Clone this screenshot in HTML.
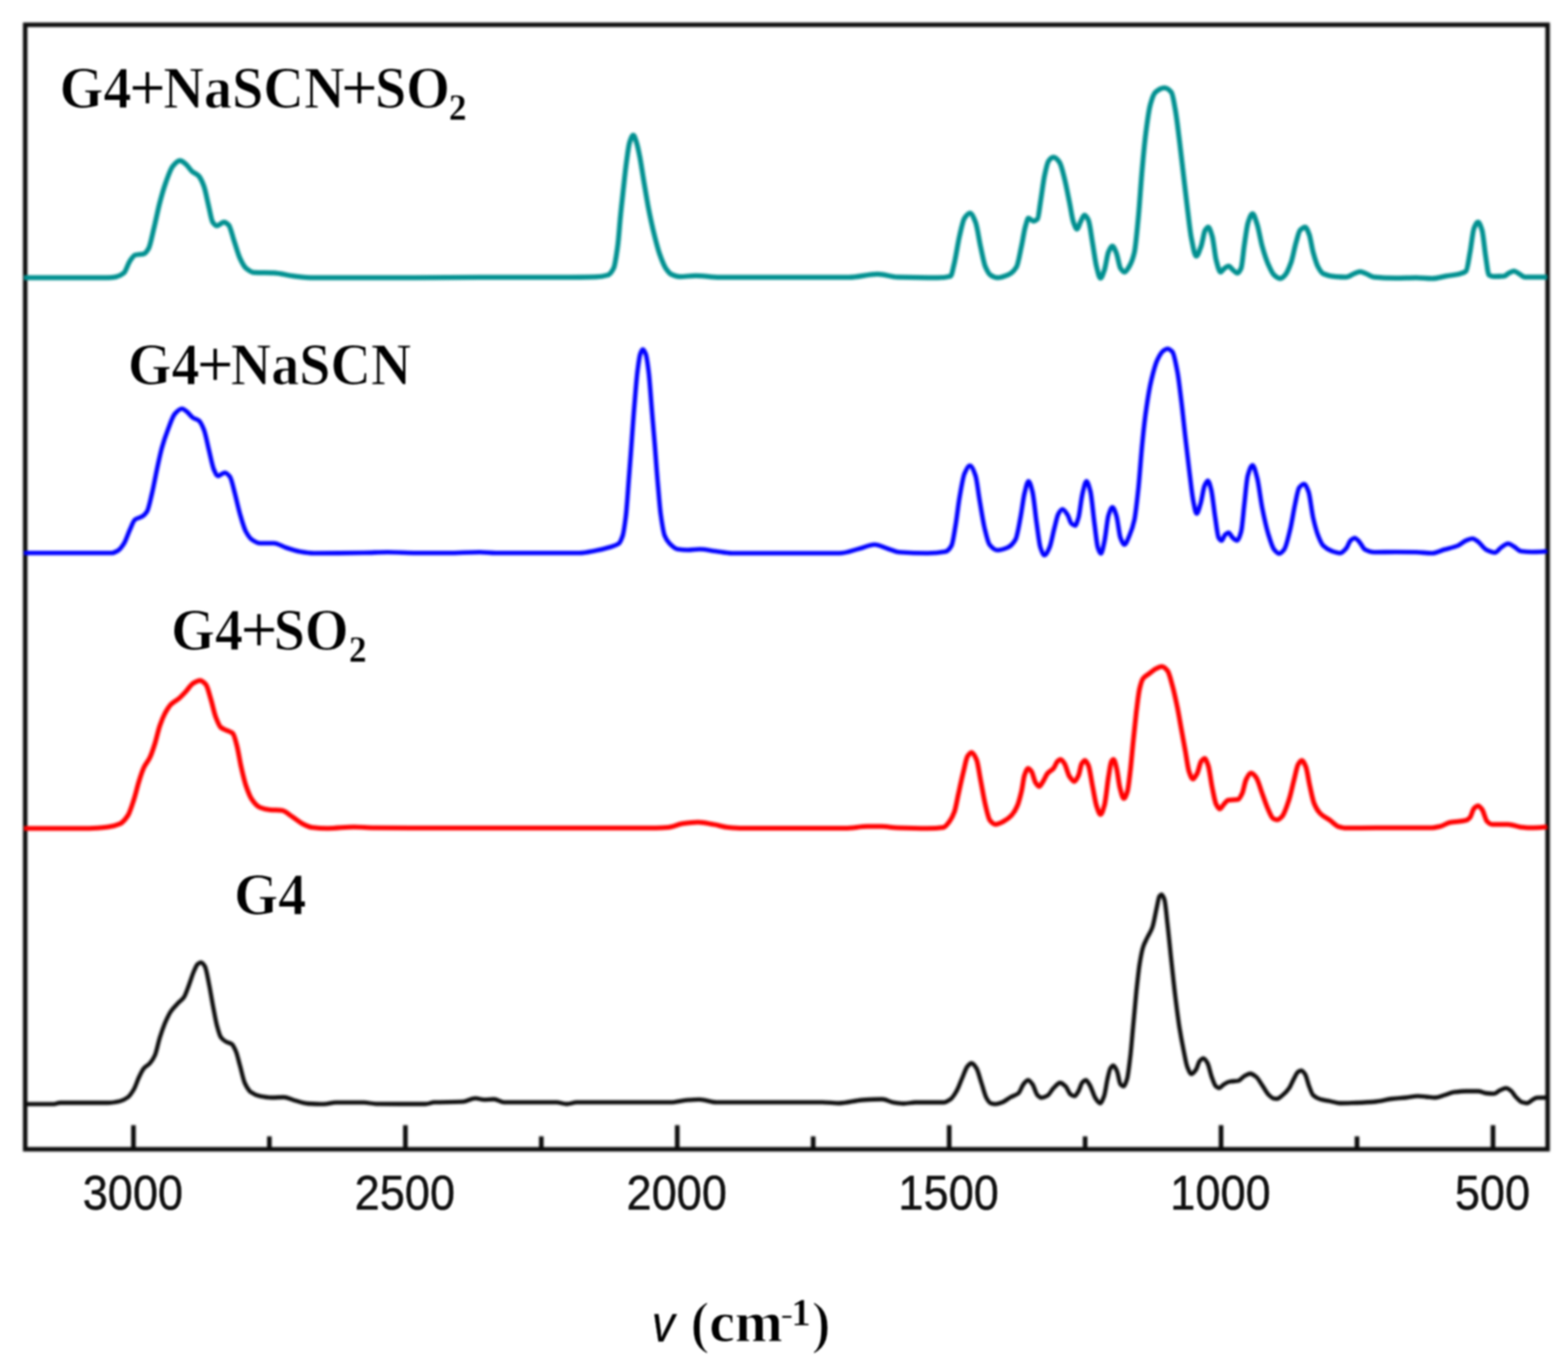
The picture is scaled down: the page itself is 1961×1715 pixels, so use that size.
<!DOCTYPE html>
<html lang="en">
<head>
<meta charset="utf-8">
<title>Spectra: G4, G4+SO2, G4+NaSCN, G4+NaSCN+SO2</title>
<style>
html,body{margin:0;padding:0;background:#fff;}
body{width:1961px;height:1715px;overflow:hidden;}
svg{display:block;}
text{white-space:pre;}
.lab{font-family:"Liberation Serif",serif;font-weight:bold;fill:#000;stroke:#fff;stroke-width:1.1;}
.lab .r{font-weight:normal;}
.lab .p{stroke:#000;stroke-width:0.5;}
.lab .par{stroke-width:2.4;}
.lab .s{stroke-width:0.3;}
.tick{font-family:"Liberation Sans",sans-serif;fill:#101010;stroke:#101010;stroke-width:0.5;}
.nu{font-family:"Liberation Sans",sans-serif;font-style:italic;font-weight:normal;fill:#000;stroke:#000;stroke-width:0.3;}
.curve{fill:none;stroke-linejoin:round;stroke-linecap:butt;}
</style>
</head>
<body>
<svg width="1961" height="1715" viewBox="0 0 1961 1715" role="img" aria-label="Spectra of G4, G4+SO2, G4+NaSCN and G4+NaSCN+SO2 versus wavenumber">
<defs>
<clipPath id="plot"><rect x="29.9" y="31.0" width="1907.2" height="1406.6"/></clipPath>
<filter id="soft" filterUnits="userSpaceOnUse" x="0" y="0" width="1961" height="1715" color-interpolation-filters="sRGB"><feGaussianBlur stdDeviation="1.3"/></filter>
<filter id="soft2" filterUnits="userSpaceOnUse" x="0" y="0" width="1961" height="1715" color-interpolation-filters="sRGB"><feGaussianBlur stdDeviation="1.5"/></filter>
</defs>
<rect x="0" y="0" width="1961" height="1715" fill="#ffffff"/>
<g filter="url(#soft2)">
<g fill="none" stroke="#0c0c0c"><path stroke-width="5.8" d="M166.9,1437.6V1407.6M507.0,1437.6V1407.6M847.0,1437.6V1407.6M1187.1,1437.6V1407.6M1527.1,1437.6V1407.6M1867.2,1437.6V1407.6M336.9,1437.6V1421.6M677.0,1437.6V1421.6M1017.0,1437.6V1421.6M1357.1,1437.6V1421.6M1697.1,1437.6V1421.6"/><rect x="31.5" y="31.0" width="1904.0" height="1406.6" stroke-width="5.6"/></g>
<g clip-path="url(#plot)">
<path class="curve" stroke="#0c0c0c" stroke-width="5.3" d="M30.0,1381.2C42.5,1381.2 55.0,1381.2 67.5,1381.2C70.0,1381.2 72.5,1379.5 75.0,1379.5C95.0,1379.5 115.0,1379.5 135.0,1379.5C140.0,1379.5 145.0,1378.6 150.0,1377.5C153.3,1376.8 156.7,1375.0 160.0,1372.5C162.5,1370.6 165.0,1366.8 167.5,1362.5C169.6,1358.9 171.7,1351.8 173.8,1347.5C175.8,1343.2 177.9,1338.7 180.0,1336.2C182.5,1333.4 185.0,1332.8 187.5,1330.0C189.6,1327.7 191.7,1324.6 193.8,1320.0C195.8,1315.4 197.9,1304.1 200.0,1297.5C202.1,1290.9 204.2,1284.9 206.2,1280.0C208.8,1274.1 211.2,1268.7 213.8,1265.0C216.7,1260.7 219.6,1258.1 222.5,1255.0C225.0,1252.3 227.5,1251.1 230.0,1247.5C232.1,1244.5 234.2,1237.9 236.2,1232.5C238.3,1227.1 240.4,1219.7 242.5,1215.0C244.0,1211.6 245.5,1207.6 247.0,1206.2C248.4,1205.0 249.8,1203.8 251.2,1203.8C252.9,1203.8 254.6,1206.1 256.2,1208.8C257.9,1211.4 259.6,1222.0 261.2,1230.0C262.9,1238.0 264.6,1248.8 266.2,1257.5C267.9,1266.2 269.6,1276.2 271.2,1282.5C272.9,1288.8 274.6,1295.2 276.2,1297.5C278.3,1300.4 280.4,1301.8 282.5,1303.0C285.0,1304.5 287.5,1304.4 290.0,1306.2C291.7,1307.5 293.3,1311.1 295.0,1315.0C296.7,1318.9 298.3,1326.6 300.0,1332.5C302.1,1339.9 304.2,1350.5 306.2,1355.0C308.8,1360.4 311.2,1364.5 313.8,1366.2C317.5,1368.9 321.2,1370.5 325.0,1371.2C330.0,1372.2 335.0,1373.0 340.0,1373.0C345.0,1373.0 350.0,1372.5 355.0,1372.5C359.2,1372.5 363.3,1375.1 367.5,1376.2C373.3,1377.8 379.2,1380.1 385.0,1380.5C391.7,1380.9 398.3,1381.2 405.0,1381.2C410.0,1381.2 415.0,1379.2 420.0,1379.2C431.7,1379.2 443.3,1379.2 455.0,1379.2C460.0,1379.2 465.0,1380.7 470.0,1380.8C480.0,1380.9 490.0,1381.0 500.0,1381.0C510.7,1381.0 521.3,1381.0 532.0,1381.0C535.7,1381.0 539.3,1379.1 543.0,1378.9C554.8,1378.4 566.7,1378.7 578.5,1378.2C583.9,1378.0 589.2,1373.9 594.6,1373.9C598.2,1373.9 601.7,1375.7 605.3,1375.7C609.5,1375.7 613.6,1375.0 617.8,1375.0C622.0,1375.0 626.1,1378.9 630.3,1378.9C652.2,1378.9 674.1,1378.9 696.0,1378.9C700.3,1378.9 704.5,1381.0 708.8,1381.0C713.0,1381.0 717.1,1378.9 721.3,1378.9C760.5,1378.9 799.8,1378.9 839.0,1378.9C845.0,1378.9 851.0,1376.9 857.0,1376.4C862.9,1375.9 868.9,1375.3 874.8,1375.3C881.9,1375.3 888.9,1378.9 896.0,1378.9C940.1,1378.9 984.2,1378.9 1028.3,1378.9C1035.4,1378.9 1042.6,1380.0 1049.7,1380.0C1059.2,1380.0 1068.8,1376.6 1078.3,1376.0C1086.6,1375.5 1095.0,1375.0 1103.3,1375.0C1108.0,1375.0 1112.8,1378.5 1117.5,1379.2C1121.7,1379.8 1125.8,1380.5 1130.0,1380.5C1135.0,1380.5 1140.0,1379.0 1145.0,1379.0C1156.7,1379.0 1168.3,1379.0 1180.0,1379.0C1182.9,1379.0 1185.8,1377.0 1188.8,1375.0C1191.2,1373.3 1193.8,1369.2 1196.2,1365.0C1198.8,1360.8 1201.2,1353.2 1203.8,1347.5C1205.8,1342.8 1207.9,1336.0 1210.0,1333.8C1211.7,1331.9 1213.3,1330.0 1215.0,1330.0C1217.1,1330.0 1219.2,1333.1 1221.2,1336.2C1223.3,1339.4 1225.4,1348.8 1227.5,1355.0C1229.6,1361.2 1231.7,1370.1 1233.8,1373.8C1235.4,1376.6 1237.1,1379.4 1238.8,1380.0C1240.8,1380.7 1242.9,1381.2 1245.0,1381.2C1247.9,1381.2 1250.8,1379.9 1253.8,1378.8C1257.1,1377.5 1260.4,1374.4 1263.8,1372.5C1267.1,1370.6 1270.4,1370.2 1273.8,1367.5C1275.8,1365.8 1277.9,1358.7 1280.0,1356.2C1281.9,1354.0 1283.8,1351.2 1285.8,1351.2C1287.6,1351.2 1289.4,1353.9 1291.2,1356.2C1293.3,1358.9 1295.4,1368.0 1297.5,1370.0C1299.2,1371.6 1300.8,1373.2 1302.5,1373.2C1305.0,1373.2 1307.5,1371.9 1310.0,1370.5C1312.5,1369.1 1315.0,1363.7 1317.5,1361.2C1320.2,1358.5 1323.0,1354.5 1325.8,1354.5C1328.0,1354.5 1330.2,1356.7 1332.5,1358.8C1334.6,1360.6 1336.7,1367.2 1338.8,1368.8C1340.4,1370.0 1342.1,1371.2 1343.8,1371.2C1345.4,1371.2 1347.1,1367.7 1348.8,1365.0C1350.4,1362.3 1352.1,1355.3 1353.8,1353.8C1355.2,1352.4 1356.6,1351.2 1358.0,1351.2C1359.7,1351.2 1361.3,1354.8 1363.0,1357.5C1365.3,1361.2 1367.7,1370.3 1370.0,1373.8C1371.9,1376.6 1373.8,1380.0 1375.8,1380.0C1377.4,1380.0 1379.1,1375.6 1380.8,1371.2C1382.2,1367.5 1383.6,1356.0 1385.0,1350.0C1386.2,1344.7 1387.5,1338.0 1388.8,1336.2C1390.0,1334.5 1391.2,1333.0 1392.5,1333.0C1394.0,1333.0 1395.5,1336.7 1397.0,1340.0C1398.4,1343.1 1399.8,1354.7 1401.2,1356.2C1402.5,1357.6 1403.8,1358.8 1405.0,1358.8C1406.5,1358.8 1408.0,1354.6 1409.5,1350.0C1410.9,1345.7 1412.3,1332.1 1413.8,1320.0C1415.0,1309.3 1416.2,1293.3 1417.5,1280.0C1418.8,1266.7 1420.0,1252.0 1421.2,1240.0C1422.5,1228.0 1423.8,1215.5 1425.0,1207.5C1426.5,1197.9 1428.0,1189.7 1429.5,1185.0C1431.3,1179.2 1433.2,1176.4 1435.0,1172.5C1437.1,1168.1 1439.2,1165.9 1441.2,1160.0C1442.9,1155.3 1444.6,1144.9 1446.2,1137.5C1447.5,1132.0 1448.8,1123.2 1450.0,1121.2C1450.8,1120.0 1451.7,1118.8 1452.5,1118.8C1453.8,1118.8 1455.0,1121.6 1456.2,1125.0C1457.5,1128.4 1458.8,1144.2 1460.0,1155.0C1461.7,1169.4 1463.3,1187.1 1465.0,1202.5C1466.7,1217.9 1468.3,1233.9 1470.0,1247.5C1471.7,1261.1 1473.3,1274.4 1475.0,1285.0C1476.7,1295.6 1478.3,1304.2 1480.0,1312.5C1481.7,1320.8 1483.3,1330.9 1485.0,1335.0C1486.7,1339.1 1488.3,1343.5 1490.0,1343.5C1491.8,1343.5 1493.7,1340.9 1495.5,1338.5C1497.2,1336.3 1498.8,1328.8 1500.5,1327.0C1502.0,1325.4 1503.5,1323.8 1505.0,1323.8C1506.7,1323.8 1508.3,1326.7 1510.0,1329.5C1511.8,1332.6 1513.7,1342.6 1515.5,1347.5C1517.2,1351.9 1518.8,1357.3 1520.5,1358.8C1521.8,1359.9 1523.2,1361.0 1524.5,1361.0C1526.5,1361.0 1528.5,1357.7 1530.5,1356.5C1533.0,1355.0 1535.5,1353.4 1538.0,1353.0C1541.5,1352.4 1545.0,1352.6 1548.5,1352.0C1551.0,1351.6 1553.5,1347.6 1556.0,1346.2C1558.5,1344.9 1561.0,1343.0 1563.5,1343.0C1566.0,1343.0 1568.5,1345.1 1571.0,1347.0C1573.5,1348.9 1576.0,1353.9 1578.5,1357.5C1581.0,1361.1 1583.5,1366.2 1586.0,1368.8C1588.1,1370.9 1590.2,1373.2 1592.2,1373.8C1593.9,1374.2 1595.6,1374.5 1597.2,1374.5C1599.3,1374.5 1601.4,1372.1 1603.5,1370.5C1606.4,1368.2 1609.3,1365.4 1612.2,1361.2C1614.3,1358.3 1616.4,1352.4 1618.5,1348.8C1620.2,1345.8 1621.8,1341.8 1623.5,1340.8C1624.8,1340.0 1626.0,1339.2 1627.2,1339.2C1628.9,1339.2 1630.6,1341.4 1632.2,1343.8C1633.9,1346.1 1635.6,1354.5 1637.2,1358.8C1638.9,1363.0 1640.6,1368.4 1642.2,1370.0C1645.2,1372.8 1648.1,1374.1 1651.0,1375.0C1655.2,1376.3 1659.3,1376.7 1663.5,1377.5C1667.7,1378.3 1671.8,1380.0 1676.0,1380.0C1682.7,1380.0 1689.3,1379.7 1696.0,1379.5C1704.3,1379.2 1712.7,1378.8 1721.0,1378.0C1727.7,1377.4 1734.3,1375.3 1741.0,1374.5C1746.8,1373.8 1752.7,1373.6 1758.5,1373.0C1763.5,1372.5 1768.5,1371.2 1773.5,1371.2C1776.8,1371.2 1780.2,1371.7 1783.5,1372.0C1787.2,1372.3 1791.0,1373.0 1794.8,1373.0C1798.5,1373.0 1802.2,1371.1 1806.0,1370.0C1810.2,1368.8 1814.3,1366.8 1818.5,1366.2C1823.5,1365.6 1828.5,1365.0 1833.5,1365.0C1838.5,1365.0 1843.5,1365.0 1848.5,1365.0C1851.8,1365.0 1855.2,1367.1 1858.5,1367.5C1861.8,1367.9 1865.2,1368.2 1868.5,1368.2C1871.0,1368.2 1873.5,1364.8 1876.0,1363.8C1878.5,1362.7 1881.0,1361.2 1883.5,1361.2C1885.6,1361.2 1887.7,1363.0 1889.8,1364.5C1891.8,1366.0 1893.9,1370.4 1896.0,1372.5C1898.5,1375.0 1901.0,1378.0 1903.5,1378.8C1905.6,1379.4 1907.7,1380.0 1909.8,1380.0C1911.8,1380.0 1913.9,1377.4 1916.0,1376.2C1918.1,1375.1 1920.2,1373.3 1922.2,1373.2C1926.5,1373.1 1930.8,1373.0 1935.0,1373.0"/>
<path class="curve" stroke="#ff0000" stroke-width="6.0" d="M30.0,1036.2C46.7,1036.2 63.3,1036.2 80.0,1036.2C90.7,1036.2 101.3,1036.2 112.0,1036.2C119.7,1036.2 127.3,1035.4 135.0,1034.5C140.0,1033.9 145.0,1032.7 150.0,1030.5C153.3,1029.0 156.7,1025.1 160.0,1020.0C162.5,1016.2 165.0,1007.7 167.5,1000.0C169.6,993.6 171.7,984.1 173.8,977.5C175.8,970.9 177.9,964.4 180.0,960.0C182.5,954.7 185.0,952.8 187.5,947.5C189.6,943.1 191.7,936.6 193.8,930.0C195.8,923.4 197.9,913.5 200.0,907.5C202.1,901.5 204.2,896.4 206.2,892.5C208.8,887.9 211.2,883.8 213.8,881.2C217.1,877.9 220.4,876.6 223.8,873.8C226.7,871.2 229.6,868.1 232.5,865.0C235.4,861.9 238.3,856.8 241.2,855.0C244.2,853.2 247.1,851.2 250.0,851.2C252.5,851.2 255.0,853.5 257.5,856.2C259.6,858.6 261.7,868.2 263.8,875.0C265.8,881.8 267.9,892.1 270.0,897.5C272.1,902.9 274.2,908.3 276.2,910.0C278.8,912.0 281.2,912.5 283.8,913.8C286.2,915.0 288.8,915.2 291.2,917.5C292.9,919.0 294.6,926.2 296.2,932.5C297.9,938.8 299.6,950.1 301.2,957.5C303.3,966.8 305.4,976.3 307.5,982.5C310.0,989.9 312.5,996.4 315.0,1000.0C318.3,1004.8 321.7,1008.7 325.0,1010.0C329.2,1011.7 333.3,1012.6 337.5,1013.0C342.5,1013.4 347.5,1013.3 352.5,1013.8C356.7,1014.1 360.8,1018.6 365.0,1021.2C369.2,1023.9 373.3,1027.9 377.5,1030.0C381.7,1032.1 385.8,1034.5 390.0,1035.0C396.7,1035.8 403.3,1036.2 410.0,1036.2C420.8,1036.2 431.7,1034.5 442.5,1034.5C450.8,1034.5 459.2,1035.4 467.5,1035.5C485.0,1035.6 502.5,1035.7 520.0,1035.7C546.7,1035.7 573.3,1035.7 600.0,1035.7C633.3,1035.7 666.7,1035.7 700.0,1035.7C740.0,1035.7 780.0,1035.7 820.0,1035.7C825.2,1035.7 830.5,1035.4 835.7,1035.0C841.6,1034.6 847.6,1031.1 853.5,1030.3C860.0,1029.4 866.5,1028.5 873.0,1028.5C879.7,1028.5 886.3,1030.3 893.0,1031.4C898.9,1032.4 904.8,1034.5 910.7,1035.0C916.6,1035.5 922.6,1036.0 928.5,1036.0C952.3,1036.0 976.2,1036.0 1000.0,1036.0C1019.0,1036.0 1038.0,1036.0 1057.0,1036.0C1066.3,1036.0 1075.7,1033.8 1085.0,1033.8C1090.8,1033.8 1096.7,1033.8 1102.5,1033.8C1109.2,1033.8 1115.8,1035.3 1122.5,1035.5C1135.0,1035.9 1147.5,1036.2 1160.0,1036.2C1166.7,1036.2 1173.3,1035.9 1180.0,1035.0C1182.5,1034.7 1185.0,1030.9 1187.5,1027.5C1189.6,1024.7 1191.7,1020.9 1193.8,1015.0C1195.4,1010.3 1197.1,999.9 1198.8,992.5C1200.8,983.2 1202.9,973.4 1205.0,965.0C1206.7,958.3 1208.3,948.9 1210.0,946.2C1211.7,943.6 1213.3,941.2 1215.0,941.2C1217.1,941.2 1219.2,945.3 1221.2,950.0C1222.9,953.7 1224.6,966.5 1226.2,975.0C1228.3,985.6 1230.4,999.0 1232.5,1007.5C1234.3,1015.0 1236.2,1024.0 1238.0,1026.2C1240.3,1029.1 1242.7,1031.2 1245.0,1031.2C1248.3,1031.2 1251.7,1029.2 1255.0,1027.5C1258.3,1025.8 1261.7,1023.5 1265.0,1020.0C1267.5,1017.4 1270.0,1013.3 1272.5,1007.5C1274.2,1003.6 1275.8,997.1 1277.5,990.0C1278.8,984.7 1280.0,973.6 1281.2,970.0C1282.8,965.7 1284.2,961.2 1285.8,961.2C1287.2,961.2 1288.6,963.1 1290.0,965.0C1291.7,967.2 1293.3,976.1 1295.0,978.8C1296.5,981.1 1298.0,983.8 1299.5,983.8C1301.2,983.8 1302.8,980.0 1304.5,977.5C1306.3,974.8 1308.2,969.6 1310.0,967.5C1312.5,964.6 1315.0,964.1 1317.5,961.2C1319.2,959.3 1320.8,954.1 1322.5,952.5C1323.8,951.3 1325.0,950.0 1326.2,950.0C1327.9,950.0 1329.6,952.6 1331.2,955.0C1333.3,958.0 1335.4,968.2 1337.5,971.2C1339.6,974.3 1341.7,977.5 1343.8,977.5C1345.4,977.5 1347.1,973.5 1348.8,970.0C1350.2,967.0 1351.6,957.1 1353.0,955.0C1354.3,953.0 1355.7,951.2 1357.0,951.2C1358.4,951.2 1359.8,954.3 1361.2,957.5C1362.9,961.2 1364.6,974.2 1366.2,982.5C1367.9,990.8 1369.6,1002.3 1371.2,1007.5C1372.9,1012.7 1374.6,1018.8 1376.2,1018.8C1377.9,1018.8 1379.6,1013.2 1381.2,1007.5C1382.9,1001.8 1384.6,982.5 1386.2,972.5C1387.5,965.0 1388.8,954.5 1390.0,952.5C1390.8,951.2 1391.7,950.0 1392.5,950.0C1393.8,950.0 1395.0,955.4 1396.2,960.0C1397.7,965.2 1399.1,979.6 1400.5,985.0C1402.2,991.3 1403.8,998.8 1405.5,998.8C1407.0,998.8 1408.5,994.7 1410.0,990.0C1411.2,986.1 1412.5,973.1 1413.8,962.5C1415.0,951.9 1416.2,937.1 1417.5,925.0C1418.8,912.9 1420.0,900.3 1421.2,890.0C1422.5,879.7 1423.8,868.0 1425.0,862.5C1426.5,855.9 1428.0,850.7 1429.5,848.8C1432.2,845.2 1434.8,844.5 1437.5,842.5C1440.4,840.3 1443.3,837.7 1446.2,836.2C1448.5,835.2 1450.8,833.8 1453.0,833.8C1455.3,833.8 1457.7,836.0 1460.0,838.8C1462.1,841.2 1464.2,850.1 1466.2,857.5C1468.3,864.9 1470.4,874.8 1472.5,885.0C1474.2,893.2 1475.8,903.3 1477.5,912.5C1479.2,921.7 1480.8,930.8 1482.5,940.0C1484.0,948.3 1485.5,960.6 1487.0,965.0C1488.6,969.7 1490.2,974.5 1491.8,974.5C1493.6,974.5 1495.4,970.8 1497.2,967.5C1498.9,964.5 1500.6,954.7 1502.2,952.5C1503.7,950.6 1505.1,948.8 1506.5,948.8C1508.0,948.8 1509.5,953.2 1511.0,957.5C1512.7,962.2 1514.3,977.0 1516.0,985.0C1517.7,993.0 1519.3,1003.0 1521.0,1006.2C1522.5,1009.2 1524.0,1012.0 1525.5,1012.0C1527.2,1012.0 1528.8,1008.0 1530.5,1006.2C1532.3,1004.3 1534.2,1001.3 1536.0,1001.0C1540.2,1000.3 1544.3,1000.7 1548.5,1000.0C1550.2,999.7 1551.8,996.0 1553.5,992.5C1555.2,989.0 1556.8,978.2 1558.5,975.0C1560.6,971.0 1562.7,967.0 1564.8,967.0C1566.8,967.0 1568.9,969.8 1571.0,972.5C1573.5,975.8 1576.0,985.8 1578.5,992.5C1581.0,999.2 1583.5,1007.2 1586.0,1012.5C1588.1,1017.0 1590.2,1022.6 1592.2,1023.8C1593.9,1024.7 1595.6,1025.5 1597.2,1025.5C1599.3,1025.5 1601.4,1023.4 1603.5,1021.2C1606.4,1018.2 1609.3,1008.9 1612.2,1000.0C1614.3,993.6 1616.4,983.1 1618.5,975.0C1620.2,968.6 1621.8,959.1 1623.5,956.2C1625.0,953.7 1626.5,951.2 1628.0,951.2C1629.7,951.2 1631.3,955.0 1633.0,958.8C1634.7,962.5 1636.3,975.2 1638.0,982.5C1639.8,990.6 1641.7,1000.6 1643.5,1005.0C1646.0,1011.1 1648.5,1014.9 1651.0,1017.5C1655.2,1021.8 1659.3,1023.2 1663.5,1026.2C1666.8,1028.7 1670.2,1032.7 1673.5,1033.8C1676.8,1034.8 1680.2,1035.8 1683.5,1035.8C1696.0,1035.8 1708.5,1035.5 1721.0,1035.5C1744.3,1035.5 1767.7,1035.5 1791.0,1035.5C1794.3,1035.5 1797.7,1034.5 1801.0,1033.8C1805.2,1032.8 1809.3,1029.6 1813.5,1028.8C1820.2,1027.4 1826.8,1027.9 1833.5,1026.2C1835.2,1025.8 1836.8,1024.4 1838.5,1022.5C1840.2,1020.6 1841.8,1012.9 1843.5,1011.2C1845.2,1009.6 1846.8,1008.0 1848.5,1008.0C1850.2,1008.0 1851.8,1010.4 1853.5,1012.5C1855.6,1015.2 1857.7,1025.5 1859.8,1027.5C1861.8,1029.5 1863.9,1031.2 1866.0,1031.2C1872.7,1031.2 1879.3,1031.2 1886.0,1031.2C1891.0,1031.2 1896.0,1033.8 1901.0,1034.5C1904.3,1034.9 1907.7,1035.5 1911.0,1035.5C1919.0,1035.5 1927.0,1035.5 1935.0,1034.2"/>
<path class="curve" stroke="#0000ff" stroke-width="5.6" d="M30.0,691.8C46.7,691.8 63.3,691.8 80.0,691.8C100.0,691.8 120.0,691.8 140.0,691.8C142.5,691.8 145.0,690.2 147.5,688.8C150.0,687.3 152.5,683.9 155.0,680.0C157.5,676.1 160.0,667.9 162.5,662.5C164.6,658.0 166.7,651.5 168.8,650.0C171.7,647.9 174.6,648.0 177.5,646.2C179.6,645.0 181.7,643.3 183.8,640.0C185.8,636.7 187.9,626.1 190.0,617.5C192.1,608.9 194.2,597.1 196.2,587.5C198.3,577.9 200.4,567.5 202.5,560.0C205.0,551.0 207.5,544.0 210.0,537.5C212.9,529.9 215.8,520.7 218.8,517.5C221.7,514.3 224.6,511.2 227.5,511.2C229.6,511.2 231.7,513.4 233.8,515.0C236.2,516.9 238.8,520.8 241.2,522.5C243.8,524.2 246.2,524.3 248.8,526.2C250.8,527.9 252.9,532.3 255.0,537.5C257.1,542.7 259.2,554.2 261.2,562.5C263.3,570.8 265.4,582.8 267.5,587.5C269.2,591.2 270.8,595.5 272.5,595.5C275.4,595.5 278.3,591.2 281.2,591.2C283.3,591.2 285.4,593.6 287.5,596.2C289.6,598.9 291.7,609.8 293.8,617.5C295.8,625.2 297.9,635.3 300.0,642.5C302.5,651.1 305.0,660.4 307.5,665.0C310.0,669.6 312.5,673.3 315.0,675.0C318.3,677.3 321.7,679.5 325.0,679.5C330.8,679.5 336.7,679.5 342.5,679.5C347.5,679.5 352.5,683.4 357.5,685.0C363.3,686.9 369.2,689.0 375.0,690.0C380.8,691.0 386.7,692.0 392.5,692.0C413.3,692.0 434.2,691.8 455.0,691.5C465.0,691.4 475.0,690.8 485.0,690.8C496.7,690.8 508.3,691.8 520.0,691.8C533.3,691.8 546.7,691.8 560.0,691.8C573.3,691.8 586.7,690.8 600.0,690.8C606.7,690.8 613.3,691.8 620.0,691.8C655.0,691.8 690.0,691.8 725.0,691.8C731.7,691.8 738.3,690.0 745.0,688.8C750.8,687.7 756.7,686.3 762.5,684.5C766.2,683.3 770.0,682.7 773.8,680.0C775.4,678.8 777.1,675.1 778.8,670.0C780.0,666.2 781.2,657.5 782.5,647.5C783.8,637.5 785.0,618.3 786.2,602.5C787.5,586.7 788.8,569.2 790.0,552.5C791.2,535.8 792.5,517.3 793.8,502.5C795.0,487.7 796.2,472.2 797.5,462.5C798.6,454.1 799.7,445.4 800.8,442.5C801.8,439.6 802.9,437.0 804.0,437.0C805.2,437.0 806.3,439.6 807.5,442.5C808.8,445.6 810.0,455.0 811.2,465.0C812.5,475.0 813.8,495.0 815.0,510.0C816.2,525.0 817.5,539.6 818.8,555.0C820.0,570.4 821.2,588.0 822.5,602.5C823.8,617.0 825.0,633.3 826.2,642.5C827.9,654.8 829.6,665.8 831.2,670.0C833.3,675.3 835.4,677.9 837.5,680.0C840.8,683.3 844.2,686.5 847.5,687.0C851.7,687.6 855.8,688.0 860.0,688.0C865.0,688.0 870.0,687.0 875.0,687.0C881.7,687.0 888.3,688.7 895.0,689.5C901.7,690.3 908.3,692.0 915.0,692.0C936.7,692.0 958.3,692.0 980.0,692.0C1003.3,692.0 1026.7,692.0 1050.0,692.0C1058.3,692.0 1066.7,688.3 1075.0,686.2C1081.2,684.7 1087.5,681.2 1093.8,681.2C1099.2,681.2 1104.6,684.6 1110.0,686.2C1115.0,687.8 1120.0,690.4 1125.0,690.8C1136.7,691.6 1148.3,692.0 1160.0,692.0C1167.5,692.0 1175.0,691.4 1182.5,690.0C1185.0,689.5 1187.5,686.9 1190.0,682.5C1191.7,679.6 1193.3,667.2 1195.0,657.5C1196.7,647.8 1198.3,632.1 1200.0,622.5C1202.1,610.6 1204.2,597.2 1206.2,592.5C1208.5,587.4 1210.8,582.5 1213.0,582.5C1215.3,582.5 1217.7,588.4 1220.0,595.0C1221.7,599.7 1223.3,615.3 1225.0,625.0C1227.1,637.1 1229.2,651.2 1231.2,660.0C1233.3,668.8 1235.4,678.7 1237.5,681.2C1240.8,685.3 1244.2,688.2 1247.5,688.2C1251.7,688.2 1255.8,686.8 1260.0,685.0C1263.3,683.6 1266.7,680.7 1270.0,675.0C1272.1,671.4 1274.2,658.1 1276.2,647.5C1277.9,639.0 1279.6,624.3 1281.2,617.5C1282.9,610.7 1284.6,602.0 1286.2,602.0C1287.9,602.0 1289.6,608.6 1291.2,615.0C1292.9,621.4 1294.6,640.9 1296.2,652.5C1297.9,664.1 1299.6,680.1 1301.2,685.0C1302.9,689.9 1304.6,694.5 1306.2,694.5C1308.3,694.5 1310.4,689.6 1312.5,685.0C1314.6,680.4 1316.7,667.8 1318.8,660.0C1320.4,653.8 1322.1,645.3 1323.8,642.5C1325.4,639.7 1327.1,637.0 1328.8,637.0C1330.8,637.0 1332.9,640.7 1335.0,643.8C1336.7,646.2 1338.3,653.5 1340.0,655.0C1341.5,656.3 1343.0,657.5 1344.5,657.5C1345.9,657.5 1347.3,652.2 1348.8,647.5C1350.4,641.9 1352.1,624.3 1353.8,617.5C1355.4,610.7 1357.1,602.0 1358.8,602.0C1360.4,602.0 1362.1,608.5 1363.8,615.0C1365.4,621.5 1367.1,642.5 1368.8,655.0C1370.2,665.6 1371.6,680.6 1373.0,685.0C1374.2,688.9 1375.5,692.5 1376.8,692.5C1378.2,692.5 1379.8,684.1 1381.2,677.5C1382.9,670.2 1384.6,650.3 1386.2,645.0C1387.9,639.7 1389.6,634.5 1391.2,634.5C1392.9,634.5 1394.6,639.9 1396.2,645.0C1397.9,650.1 1399.6,668.1 1401.2,672.5C1402.9,676.9 1404.6,681.2 1406.2,681.2C1408.3,681.2 1410.4,674.8 1412.5,670.0C1414.6,665.2 1416.7,659.7 1418.8,650.0C1420.4,642.3 1422.1,625.7 1423.8,610.0C1425.4,594.3 1427.1,568.8 1428.8,552.5C1430.4,536.2 1432.1,521.3 1433.8,510.0C1435.8,495.8 1437.9,483.8 1440.0,475.0C1442.5,464.5 1445.0,455.2 1447.5,450.0C1450.0,444.8 1452.5,440.6 1455.0,438.8C1456.7,437.5 1458.3,436.2 1460.0,436.2C1462.1,436.2 1464.2,437.8 1466.2,440.0C1468.3,442.2 1470.4,454.0 1472.5,465.0C1474.2,473.8 1475.8,488.9 1477.5,502.5C1479.2,516.1 1480.8,532.9 1482.5,547.5C1484.2,562.1 1485.8,576.7 1487.5,590.0C1489.2,603.3 1490.8,619.3 1492.5,627.5C1493.8,634.1 1495.2,642.5 1496.5,642.5C1498.2,642.5 1499.8,635.4 1501.5,630.0C1503.2,624.6 1504.8,611.3 1506.5,607.5C1507.8,604.5 1509.2,601.2 1510.5,601.2C1511.9,601.2 1513.3,607.1 1514.8,612.5C1516.4,618.8 1518.1,636.9 1519.8,647.5C1521.2,656.5 1522.6,670.1 1524.0,672.5C1525.2,674.6 1526.5,676.2 1527.8,676.2C1529.2,676.2 1530.8,670.0 1532.2,668.8C1533.7,667.5 1535.1,666.2 1536.5,666.2C1538.2,666.2 1539.8,671.1 1541.5,672.5C1543.4,674.2 1545.3,676.2 1547.2,676.2C1548.9,676.2 1550.6,671.1 1552.2,665.0C1553.5,660.4 1554.8,643.1 1556.0,632.5C1557.5,619.7 1559.0,600.3 1560.5,595.0C1562.5,587.9 1564.5,582.0 1566.5,582.0C1568.4,582.0 1570.3,590.4 1572.2,597.5C1574.3,605.2 1576.4,624.5 1578.5,635.0C1581.0,647.6 1583.5,659.2 1586.0,667.5C1588.5,675.8 1591.0,684.5 1593.5,687.5C1595.6,690.0 1597.7,692.5 1599.8,692.5C1601.8,692.5 1603.9,690.1 1606.0,687.5C1608.5,684.3 1611.0,672.7 1613.5,662.5C1615.6,654.0 1617.7,639.4 1619.8,630.0C1621.4,622.5 1623.1,612.1 1624.8,610.0C1626.8,607.4 1628.9,605.5 1631.0,605.5C1632.8,605.5 1634.7,610.2 1636.5,615.0C1638.4,620.1 1640.3,639.0 1642.2,647.5C1644.3,656.7 1646.4,664.6 1648.5,670.0C1650.6,675.4 1652.7,680.4 1654.8,682.5C1658.5,686.2 1662.2,688.2 1666.0,689.5C1669.3,690.7 1672.7,692.0 1676.0,692.0C1678.5,692.0 1681.0,689.0 1683.5,686.2C1685.3,684.2 1687.2,677.9 1689.0,676.2C1690.8,674.6 1692.5,673.0 1694.2,673.0C1696.1,673.0 1697.9,675.7 1699.8,677.5C1702.2,680.0 1704.8,686.3 1707.2,687.5C1711.0,689.4 1714.8,690.8 1718.5,690.8C1727.7,690.8 1736.8,690.5 1746.0,690.5C1754.3,690.5 1762.7,690.6 1771.0,690.8C1777.7,690.9 1784.3,692.0 1791.0,692.0C1796.0,692.0 1801.0,689.0 1806.0,687.5C1811.8,685.8 1817.7,684.9 1823.5,682.5C1826.8,681.1 1830.2,677.6 1833.5,676.2C1836.2,675.2 1838.8,673.8 1841.5,673.8C1843.8,673.8 1846.2,675.9 1848.5,677.5C1851.8,679.8 1855.2,685.8 1858.5,687.5C1862.2,689.4 1866.0,691.2 1869.8,691.2C1872.2,691.2 1874.8,686.7 1877.2,685.0C1880.2,683.0 1883.1,680.0 1886.0,680.0C1888.5,680.0 1891.0,682.3 1893.5,683.8C1896.4,685.4 1899.3,689.1 1902.2,689.5C1906.8,690.1 1911.4,690.5 1916.0,690.5C1922.3,690.5 1928.7,690.3 1935.0,689.5"/>
<path class="curve" stroke="#009090" stroke-width="6.2" d="M30.0,347.4C40.0,347.4 50.0,347.4 60.0,347.4C73.3,347.4 86.7,347.4 100.0,347.4C111.7,347.4 123.3,347.4 135.0,347.4C138.3,347.4 141.7,347.0 145.0,346.4C148.3,345.8 151.7,344.1 155.0,341.4C157.5,339.3 160.0,330.0 162.5,326.4C164.6,323.4 166.7,319.8 168.8,319.1C172.5,318.0 176.2,318.5 180.0,317.4C182.0,316.8 184.0,314.0 186.0,310.4C188.2,306.5 190.3,294.2 192.5,285.4C195.0,275.2 197.5,262.3 200.0,252.9C202.5,243.5 205.0,234.8 207.5,227.9C210.3,220.1 213.2,211.2 216.0,207.9C219.0,204.4 222.0,200.9 225.0,200.9C227.5,200.9 230.0,203.4 232.5,205.4C235.0,207.4 237.5,211.9 240.0,214.2C242.9,216.8 245.8,217.2 248.8,220.4C250.8,222.7 252.9,227.3 255.0,232.9C257.0,238.3 259.0,249.7 261.0,257.9C262.7,264.7 264.3,275.5 266.0,277.9C267.7,280.3 269.3,282.4 271.0,282.4C274.0,282.4 277.0,277.9 280.0,277.9C282.0,277.9 284.0,279.5 286.0,281.4C288.2,283.5 290.3,294.0 292.5,300.4C295.0,307.8 297.5,317.5 300.0,322.9C302.5,328.3 305.0,333.3 307.5,335.4C310.8,338.2 314.2,340.8 317.5,340.9C325.8,341.3 334.2,341.1 342.5,341.4C350.8,341.7 359.2,344.5 367.5,345.4C375.8,346.3 384.2,347.4 392.5,347.4C411.7,347.4 430.8,347.4 450.0,347.4C473.3,347.4 496.7,347.4 520.0,347.4C546.7,347.4 573.3,346.9 600.0,346.9C633.3,346.9 666.7,346.9 700.0,346.9C715.0,346.9 730.0,346.8 745.0,346.4C750.0,346.3 755.0,345.6 760.0,344.1C762.5,343.4 765.0,340.4 767.5,335.4C769.2,332.0 770.8,320.2 772.5,307.9C773.7,299.3 774.8,282.1 776.0,270.4C777.3,257.0 778.7,244.9 780.0,232.9C781.2,221.6 782.5,209.3 783.8,200.4C785.0,191.5 786.2,181.6 787.5,177.9C789.0,173.4 790.5,169.2 792.0,169.2C793.3,169.2 794.7,174.0 796.0,177.9C797.3,181.8 798.7,188.7 800.0,195.4C801.7,203.8 803.3,215.5 805.0,225.4C807.0,237.2 809.0,250.1 811.0,260.4C813.2,271.6 815.3,281.5 817.5,290.4C820.0,300.6 822.5,310.8 825.0,317.9C827.5,325.0 830.0,331.7 832.5,335.4C835.0,339.1 837.5,342.3 840.0,343.4C843.3,344.9 846.7,346.1 850.0,346.1C856.7,346.1 863.3,344.9 870.0,344.9C880.0,344.9 890.0,346.9 900.0,346.9C926.7,346.9 953.3,346.9 980.0,346.9C1007.3,346.9 1034.7,346.9 1062.0,346.9C1073.8,346.9 1085.7,342.9 1097.5,342.9C1105.8,342.9 1114.2,346.4 1122.5,346.6C1139.2,347.1 1155.8,347.4 1172.5,347.4C1177.9,347.4 1183.3,346.9 1188.8,345.4C1190.4,344.9 1192.1,334.8 1193.8,327.9C1195.8,319.2 1197.9,304.3 1200.0,295.4C1202.1,286.5 1204.2,276.0 1206.2,272.9C1208.5,269.6 1210.8,266.6 1213.0,266.6C1215.3,266.6 1217.7,272.2 1220.0,277.9C1222.1,283.0 1224.2,298.6 1226.2,307.9C1228.3,317.2 1230.4,329.3 1232.5,334.1C1234.6,339.0 1236.7,342.8 1238.8,344.1C1241.7,346.0 1244.6,347.4 1247.5,347.4C1251.7,347.4 1255.8,345.8 1260.0,344.1C1263.8,342.6 1267.5,340.0 1271.2,334.1C1273.3,330.9 1275.4,317.4 1277.5,307.9C1279.2,300.3 1280.8,288.6 1282.5,282.9C1283.8,278.6 1285.0,272.9 1286.2,272.9C1288.3,272.9 1290.4,276.6 1292.5,276.6C1294.2,276.6 1295.8,275.7 1297.5,274.1C1298.8,273.0 1300.0,260.4 1301.2,252.9C1302.9,242.8 1304.6,228.3 1306.2,220.4C1307.9,212.5 1309.6,203.9 1311.2,201.7C1313.3,198.8 1315.4,196.7 1317.5,196.7C1320.0,196.7 1322.5,199.5 1325.0,202.9C1327.1,205.7 1329.2,214.9 1331.2,222.9C1333.3,230.9 1335.4,242.7 1337.5,252.9C1339.2,261.1 1340.8,273.3 1342.5,277.9C1344.0,282.1 1345.5,286.6 1347.0,286.6C1348.4,286.6 1349.8,280.6 1351.2,277.9C1352.9,274.7 1354.6,269.1 1356.2,269.1C1357.9,269.1 1359.6,272.0 1361.2,275.4C1362.9,278.8 1364.6,293.3 1366.2,302.9C1367.9,312.5 1369.6,326.2 1371.2,332.9C1372.9,339.6 1374.6,347.9 1376.2,347.9C1377.9,347.9 1379.6,342.5 1381.2,337.9C1382.9,333.3 1384.6,319.1 1386.2,315.4C1387.9,311.6 1389.6,307.9 1391.2,307.9C1392.9,307.9 1394.6,312.7 1396.2,316.6C1397.9,320.6 1399.6,332.8 1401.2,335.4C1402.9,338.0 1404.6,340.4 1406.2,340.4C1408.3,340.4 1410.4,336.4 1412.5,332.9C1414.6,329.4 1416.7,324.5 1418.8,315.4C1420.4,308.1 1422.1,287.8 1423.8,270.4C1425.4,253.0 1427.1,225.9 1428.8,207.9C1430.4,189.9 1432.1,172.7 1433.8,160.4C1435.4,148.1 1437.1,136.2 1438.8,130.4C1440.8,123.1 1442.9,117.2 1445.0,115.4C1448.8,112.1 1452.5,109.9 1456.2,109.9C1459.2,109.9 1462.1,111.9 1465.0,115.4C1466.7,117.4 1468.3,128.5 1470.0,137.9C1471.7,147.3 1473.3,162.1 1475.0,175.4C1476.7,188.7 1478.3,203.7 1480.0,217.9C1481.7,232.1 1483.3,247.1 1485.0,260.4C1486.7,273.7 1488.3,289.5 1490.0,297.9C1492.0,308.0 1494.0,320.4 1496.0,320.4C1498.1,320.4 1500.2,313.5 1502.2,307.9C1503.9,303.4 1505.6,290.5 1507.2,287.9C1508.5,286.0 1509.8,284.1 1511.0,284.1C1512.7,284.1 1514.3,289.9 1516.0,295.4C1517.7,300.9 1519.3,319.1 1521.0,325.4C1522.8,332.3 1524.7,340.4 1526.5,340.4C1528.0,340.4 1529.5,337.0 1531.0,335.9C1532.8,334.6 1534.7,332.9 1536.5,332.9C1538.4,332.9 1540.3,336.4 1542.2,337.9C1543.9,339.2 1545.6,341.6 1547.2,341.6C1548.9,341.6 1550.6,339.1 1552.2,335.4C1553.5,332.6 1554.8,316.2 1556.0,307.9C1557.7,296.8 1559.3,282.8 1561.0,277.9C1562.8,272.5 1564.7,267.4 1566.5,267.4C1568.4,267.4 1570.3,274.7 1572.2,280.4C1574.3,286.6 1576.4,300.4 1578.5,307.9C1581.0,316.9 1583.5,324.7 1586.0,330.4C1588.5,336.1 1591.0,342.0 1593.5,344.1C1596.0,346.3 1598.5,348.4 1601.0,348.4C1603.1,348.4 1605.2,346.3 1607.2,344.1C1609.8,341.6 1612.2,335.0 1614.8,327.9C1616.8,322.0 1618.9,310.0 1621.0,302.9C1622.7,297.2 1624.3,289.6 1626.0,287.9C1628.1,285.8 1630.2,284.1 1632.2,284.1C1633.9,284.1 1635.6,288.7 1637.2,292.9C1638.9,297.1 1640.6,309.4 1642.2,315.4C1644.3,323.0 1646.4,330.3 1648.5,334.1C1650.6,338.0 1652.7,341.5 1654.8,342.4C1660.2,344.8 1665.6,345.8 1671.0,346.1C1675.2,346.4 1679.3,346.6 1683.5,346.6C1686.8,346.6 1690.2,343.6 1693.5,342.4C1696.0,341.5 1698.5,339.9 1701.0,339.9C1703.5,339.9 1706.0,341.5 1708.5,342.4C1711.8,343.6 1715.2,346.3 1718.5,346.6C1727.7,347.5 1736.8,347.9 1746.0,347.9C1754.3,347.9 1762.7,347.4 1771.0,347.4C1777.7,347.4 1784.3,348.4 1791.0,348.4C1796.8,348.4 1802.7,346.4 1808.5,345.4C1814.3,344.4 1820.2,343.9 1826.0,342.4C1828.5,341.7 1831.0,341.3 1833.5,339.1C1835.2,337.7 1836.8,324.2 1838.5,315.4C1840.2,306.6 1841.8,289.4 1843.5,285.4C1845.2,281.4 1846.8,277.9 1848.5,277.9C1850.2,277.9 1851.8,282.6 1853.5,287.9C1855.0,292.6 1856.5,311.0 1858.0,320.4C1859.4,329.3 1860.8,343.3 1862.2,344.1C1864.3,345.3 1866.4,345.9 1868.5,345.9C1872.7,345.9 1876.8,345.7 1881.0,345.4C1883.1,345.2 1885.2,342.6 1887.2,341.6C1889.3,340.6 1891.4,339.1 1893.5,339.1C1895.6,339.1 1897.7,341.3 1899.8,342.4C1902.2,343.8 1904.8,346.6 1907.2,346.6C1911.5,346.6 1915.8,346.6 1920.0,346.6C1925.0,346.6 1930.0,346.6 1935.0,346.6"/>
</g>
</g>
<g filter="url(#soft)">
<text class="tick" transform="translate(166.2,1513.2) scale(0.965,1.03)" font-size="58.5" text-anchor="middle">3000</text>
<text class="tick" transform="translate(506.3,1513.2) scale(0.965,1.03)" font-size="58.5" text-anchor="middle">2500</text>
<text class="tick" transform="translate(846.3,1513.2) scale(0.965,1.03)" font-size="58.5" text-anchor="middle">2000</text>
<text class="tick" transform="translate(1186.4,1513.2) scale(0.965,1.03)" font-size="58.5" text-anchor="middle">1500</text>
<text class="tick" transform="translate(1526.4,1513.2) scale(0.965,1.03)" font-size="58.5" text-anchor="middle">1000</text>
<text class="tick" transform="translate(1866.5,1513.2) scale(0.965,1.03)" font-size="58.5" text-anchor="middle">500</text>
<text class="lab" transform="translate(74.4,134.8) scale(0.9477227456258412,1)" font-size="74.3"><tspan x="0.0" y="0">G4</tspan><tspan class="r p" x="92.8" y="2.2" font-size="83.0">+</tspan><tspan x="136.9" y="0">NaSCN</tspan><tspan class="r p" x="372.4" y="2.2" font-size="83.0">+</tspan><tspan x="416.3" y="0">SO</tspan><tspan class="s" x="513.8" y="15.3" font-size="47.0">2</tspan></text>
<text class="lab" transform="translate(160.0,481.2) scale(0.9432032301480484,1)" font-size="74.3"><tspan x="0.0" y="0">G4</tspan><tspan class="r p" x="92.2" y="2.2" font-size="83.0">+</tspan><tspan x="136.3" y="0">NaSCN</tspan></text>
<text class="lab" transform="translate(214.0,812.6) scale(0.9481157469717362,1)" font-size="74.3"><tspan x="0.0" y="0">G4</tspan><tspan class="r p" x="92.6" y="2.2" font-size="83.0">+</tspan><tspan x="135.2" y="0">SO</tspan><tspan class="s" x="234.4" y="15.3" font-size="47.0">2</tspan></text>
<text class="lab" transform="translate(292.7,1143.6) scale(0.9549932705248991,1)" font-size="74.3"><tspan x="0.0" y="0">G4</tspan></text>
<text class="lab" transform="translate(0,1677.6) scale(0.968,0.97)" font-size="73"><tspan class="nu" x="842.1" y="0" font-size="67.5" textLength="29.6" lengthAdjust="spacingAndGlyphs">v</tspan><tspan x="878.1" y="0"> </tspan><tspan class="par" x="891.5" y="1" font-size="77">(</tspan><tspan x="916.3" y="0.5" font-size="74.4">cm</tspan><tspan class="r" x="1008.2" y="-18.7" font-size="50">-</tspan><tspan class="s" x="1022.8" y="-20.3" font-size="49">1</tspan><tspan class="par" x="1048.1" y="1" font-size="77">)</tspan></text>
</g>
</svg>
</body>
</html>
